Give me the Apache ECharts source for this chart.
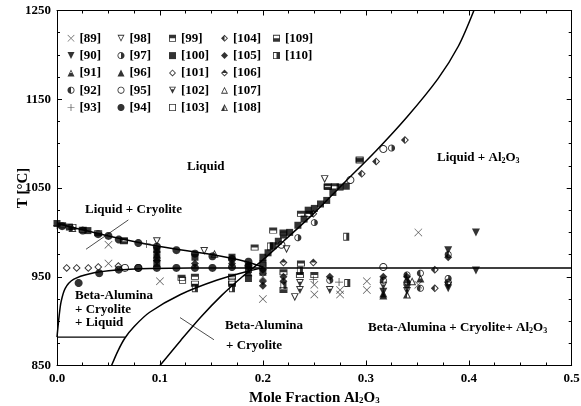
<!DOCTYPE html>
<html>
<head>
<meta charset="utf-8">
<script src="https://cdn.jsdelivr.net/npm/echarts@6/dist/echarts.min.js"></script>
<style>
  html, body { margin: 0; padding: 0; background: #fff; }
  #chart { width: 581px; height: 406px; }
</style>
</head>
<body>
<div id="chart"></div>
<script>
// ---- axis ticks ----
const xTickLabels = ['0.0', '0.1', '0.2', '0.3', '0.4', '0.5'];
const yTickLabels = ['850', '950', '1050', '1150', '1250'];

// ---- measured points [mole fraction Al2O3, T in °C], one array per source ----
const s89 = [[0.05, 986], [0.05, 965], [0.1, 945], [0.2, 950], [0.2, 925], [0.25, 941], [0.25, 930], [0.275, 935], [0.275, 930], [0.301, 945], [0.301, 935], [0.351, 1000], [0.351, 941]];
const s90 = [[0.407, 1000], [0.407, 957], [0.38, 980], [0.38, 937], [0.34, 937], [0.317, 933]];
const s91 = [[0.317, 931], [0.34, 947], [0.353, 948]];
const s92 = [[0.317, 946], [0.34, 952], [0.38, 975], [0.38, 944], [0.353, 954], [0.353, 937]];
const s93 = [[0.0, 1008], [0.087, 987], [0.249, 947], [0.274, 944]];
const s94 = [[0.005, 1007], [0.025, 1002], [0.04, 998], [0.05, 996], [0.06, 992], [0.079, 988], [0.097, 984], [0.116, 980], [0.134, 976], [0.151, 973], [0.17, 970], [0.186, 967],
             [0.021, 943], [0.041, 954], [0.06, 958], [0.079, 960], [0.097, 960], [0.116, 960], [0.134, 960], [0.151, 960], [0.17, 961], [0.186, 962]];
const s95 = [[0.066, 960], [0.079, 960], [0.218, 986], [0.285, 1059], [0.317, 1094], [0.317, 961]];
const s96 = [[0.097, 975], [0.186, 955], [0.317, 929]];
const s97 = [[0.234, 994], [0.25, 1011], [0.325, 1095], [0.265, 946], [0.34, 944], [0.38, 948]];
const s98 = [[0.097, 990], [0.143, 979], [0.26, 1060], [0.231, 927], [0.223, 981]];
const s99 = [[0.005, 1008], [0.025, 1003], [0.065, 991], [0.121, 949], [0.134, 950], [0.192, 983], [0.21, 1002], [0.22, 1000], [0.237, 1021], [0.245, 1021],
             [0.237, 965], [0.236, 952], [0.25, 952], [0.263, 1052], [0.27, 1052], [0.294, 1081], [0.22, 955], [0.17, 950]];
const s100 = [[0.0, 1010], [0.012, 1006], [0.03, 1002], [0.097, 980], [0.097, 972], [0.097, 965], [0.134, 972], [0.17, 972], [0.2, 965], [0.2, 972], [0.205, 977], [0.21, 985],
              [0.215, 990], [0.22, 997], [0.226, 1000], [0.234, 1008], [0.24, 1015], [0.244, 1025], [0.25, 1027], [0.256, 1032], [0.262, 1036], [0.268, 1045],
              [0.275, 1051], [0.281, 1052], [0.186, 958], [0.2, 955], [0.186, 948]];
const s101 = [[0.0094, 960], [0.0191, 960], [0.0304, 960], [0.0401, 961], [0.0596, 962]];
const s102 = [[0.236, 943], [0.236, 935], [0.265, 935], [0.34, 934], [0.38, 940], [0.317, 940]];
const s103 = [[0.122, 946], [0.17, 945], [0.2, 963]];
const s104 = [[0.249, 1021], [0.296, 1066], [0.31, 1080], [0.338, 1104], [0.367, 958], [0.367, 937]];
const s105 = [[0.097, 978], [0.097, 968], [0.134, 965], [0.17, 965], [0.186, 963], [0.2, 958], [0.2, 945], [0.2, 940], [0.22, 950], [0.22, 945],
              [0.265, 950], [0.34, 950], [0.317, 950], [0.38, 972]];
const s106 = [[0.22, 966], [0.249, 966]];
const s107 = [[0.153, 976], [0.345, 945]];
const s108 = [[0.015, 1005], [0.34, 930]];
const s109 = [[0.015, 1006], [0.04, 999], [0.065, 990], [0.134, 942], [0.17, 942], [0.22, 935], [0.294, 1082], [0.263, 1051]];
const s110 = [[0.134, 937], [0.17, 937], [0.207, 984], [0.22, 940], [0.281, 995], [0.282, 943], [0.236, 957]];

// ---- phase boundaries ----
const cryoliteLiquidus = [[0, 1010], [0.05, 996], [0.1, 984], [0.15, 975], [0.184, 967], [0.2, 961]];
const betaLiquidus = [[0, 882], [0.002, 905], [0.004, 922], [0.008, 937], [0.016, 947], [0.032, 953.5], [0.058, 957.5], [0.09, 959.3], [0.13, 960], [0.5, 960]];
const solidus882 = [[0, 882], [0.066, 882]];
const betaBoundary = [[0.053, 850], [0.059, 866], [0.066, 881], [0.075, 894], [0.09, 910], [0.12, 930], [0.155, 946], [0.185, 956], [0.2, 960]];
const aluminaLiquidus = [[0.1, 850], [0.12, 878], [0.14, 905], [0.16, 929], [0.18, 950], [0.2, 969], [0.22, 990], [0.25, 1022],
                         [0.28, 1057], [0.31, 1092], [0.34, 1130], [0.37, 1173], [0.39, 1210], [0.405, 1250]];
const pointerCryolite = [[0.0282, 981], [0.0693, 1014]];
const pointerBeta = [[0.1195, 904], [0.1525, 879]];

// ---- legend layout: columns of source labels ----
const legendColumns = [
  ['[89]', '[90]', '[91]', '[92]', '[93]'],
  ['[98]', '[97]', '[96]', '[95]', '[94]'],
  ['[99]', '[100]', '[101]', '[102]', '[103]'],
  ['[104]', '[105]', '[106]', '[107]', '[108]'],
  ['[109]', '[110]']
];
const legendLeft = [67.5, 117.5, 169, 221, 273];

// ---- marker shapes built as single-colour paths (rings + partial fills) ----
function circlePts(r) {
  const p = [];
  for (let i = 0; i < 32; i++) { const a = i / 32 * 2 * Math.PI; p.push([10 + r * Math.cos(a), 10 + r * Math.sin(a)]); }
  return p;
}
function scalePts(pts, cx, cy, f) { return pts.map(([x, y]) => [cx + (x - cx) * f, cy + (y - cy) * f]); }
function toPath(pts) { return 'M' + pts.map(p => p[0].toFixed(2) + ',' + p[1].toFixed(2)).join('L') + 'Z'; }
function clipHalf(pts, a, b, c) {
  const out = [], f = p => a * p[0] + b * p[1] + c;
  for (let i = 0; i < pts.length; i++) {
    const P = pts[i], Q = pts[(i + 1) % pts.length], fp = f(P), fq = f(Q);
    if (fp >= 0) out.push(P);
    if ((fp >= 0) !== (fq >= 0)) { const t = fp / (fp - fq); out.push([P[0] + t * (Q[0] - P[0]), P[1] + t * (Q[1] - P[1])]); }
  }
  return out;
}
const SHAPES = {
  circle: { outer: circlePts(10), c: [10, 10], inr: 10 },
  square: { outer: [[0, 0], [20, 0], [20, 20], [0, 20]], c: [10, 10], inr: 10 },
  diamond: { outer: [[10, 0], [20, 10], [10, 20], [0, 10]], c: [10, 10], inr: 7.07 },
  up: { outer: [[10, 0], [20, 20], [0, 20]], c: [10, 13.82], inr: 6.18 },
  down: { outer: [[0, 0], [20, 0], [10, 20]], c: [10, 6.18], inr: 6.18 }
};
const RING = 2.4;
function innerOf(s) { const sh = SHAPES[s]; return scalePts(sh.outer, sh.c[0], sh.c[1], 1 - RING / sh.inr); }
function solid(s) { return 'path://' + toPath(SHAPES[s].outer); }
function hollow(s) { return 'path://' + toPath(SHAPES[s].outer) + toPath(innerOf(s).slice().reverse()); }
function part(s, a, b, c) {
  const inner = innerOf(s);
  return 'path://' + toPath(SHAPES[s].outer) + toPath(inner.slice().reverse()) + toPath(clipHalf(inner, a, b, c));
}
const CROSS = 'path://' + toPath([[0, 1.2], [1.2, 0], [20, 18.8], [18.8, 20]]) + toPath([[18.8, 0], [20, 1.2], [1.2, 20], [0, 18.8]]);
const PLUS = 'path://' + toPath([[9, 0], [11, 0], [11, 20], [9, 20]]) + toPath([[0, 9], [20, 9], [20, 11], [0, 11]]);
const LEFT = [-1, 0, 10], RIGHT = [1, 0, -10], TOP = [0, -1, 10], BOTTOM = [0, 1, -10];

const sources = [
  { name: '[89]', data: s89, symbol: CROSS, size: 8, color: '#333' },
  { name: '[90]', data: s90, symbol: solid('down'), size: 8 },
  { name: '[91]', data: s91, symbol: part('up', ...BOTTOM), size: 8 },
  { name: '[92]', data: s92, symbol: part('circle', ...LEFT), size: 7 },
  { name: '[93]', data: s93, symbol: PLUS, size: 8, color: '#222' },
  { name: '[94]', data: s94, symbol: solid('circle'), size: 8 },
  { name: '[95]', data: s95, symbol: hollow('circle'), size: 8 },
  { name: '[96]', data: s96, symbol: solid('up'), size: 8 },
  { name: '[97]', data: s97, symbol: part('circle', ...RIGHT), size: 7 },
  { name: '[98]', data: s98, symbol: hollow('down'), size: 8 },
  { name: '[99]', data: s99, symbol: part('square', ...TOP), size: [8, 6] },
  { name: '[100]', data: s100, symbol: solid('square'), size: 7 },
  { name: '[101]', data: s101, symbol: hollow('diamond'), size: 8 },
  { name: '[102]', data: s102, symbol: part('down', 0, 1, -7), size: 8 },
  { name: '[103]', data: s103, symbol: hollow('square'), size: 7 },
  { name: '[104]', data: s104, symbol: part('diamond', ...LEFT), size: 8 },
  { name: '[105]', data: s105, symbol: solid('diamond'), size: 8 },
  { name: '[106]', data: s106, symbol: part('diamond', ...TOP), size: 8 },
  { name: '[107]', data: s107, symbol: hollow('up'), size: 8 },
  { name: '[108]', data: s108, symbol: part('up', ...LEFT), size: 8 },
  { name: '[109]', data: s109, symbol: part('square', ...BOTTOM), size: [8, 6] },
  { name: '[110]', data: s110, symbol: part('square', ...RIGHT), size: [6, 8] }
];

const SERIF = '"Liberation Serif", "Times New Roman", serif';

function boundary(data, width, smooth) {
  return {
    type: 'line', data: data, showSymbol: false, symbol: 'none', silent: true, z: 1,
    smooth: smooth,
    lineStyle: { color: '#000', width: width }
  };
}

const series = [
  boundary(cryoliteLiquidus, 1.5, 0.3),
  boundary(betaLiquidus, 1.5, 0.3),
  boundary(solidus882, 1.3, false),
  boundary(betaBoundary, 1.5, 0.3),
  boundary(aluminaLiquidus, 1.5, 0.3),
  boundary(pointerCryolite, 0.7, false),
  boundary(pointerBeta, 0.7, false)
].concat(sources.map(s => ({
  name: s.name, type: 'scatter', data: s.data, symbol: s.symbol, symbolSize: s.size, z: 3,
  itemStyle: { color: s.color || '#000', borderWidth: 0 }
})));

const legends = legendColumns.map((col, i) => ({
  data: col, orient: 'vertical', left: legendLeft[i], top: 31.3,
  itemWidth: 7, itemHeight: 7, itemGap: 3.3, padding: 0, selectedMode: false,
  textStyle: { fontFamily: SERIF, fontWeight: 'bold', fontSize: 13, color: '#000', lineHeight: 14 }
}));

function regionLabel(x, y, text) {
  return {
    type: 'text', x: x, y: y, silent: true, z: 10,
    style: {
      text: text, fill: '#000', fontFamily: SERIF, fontWeight: 'bold', fontSize: 13,
      verticalAlign: 'middle', align: 'left',
      rich: { s: { fontFamily: SERIF, fontWeight: 'bold', fontSize: 8, verticalAlign: 'bottom', fill: '#000' } }
    }
  };
}

const axisBase = {
  type: 'value', min: 0, max: 0.5, interval: 0.1,
  axisLine: { show: true, onZero: false, lineStyle: { color: '#000', width: 1 } },
  axisTick: { show: true, inside: true, length: 5, lineStyle: { color: '#000', width: 1 } },
  minorTick: { show: true, splitNumber: 4, length: 3, lineStyle: { color: '#000', width: 1 } },
  splitLine: { show: false }, minorSplitLine: { show: false }
};

const option = {
  animation: false,
  backgroundColor: '#fff',
  grid: { left: 57, right: 9.3, top: 10.5, bottom: 40.5, containLabel: false, outerBoundsMode: 'none' },
  legend: legends,
  xAxis: [
    Object.assign({}, axisBase, {
      position: 'bottom',
      axisLabel: { formatter: v => xTickLabels[Math.round(v * 10)], fontFamily: SERIF, fontWeight: 'bold', fontSize: 13, color: '#000', margin: 7 },
      name: 'Mole Fraction Al{s|2}O{s|3}', nameLocation: 'middle', nameGap: 25, nameMoveOverlap: false,
      nameTextStyle: {
        fontFamily: SERIF, fontWeight: 'bold', fontSize: 15, color: '#000',
        rich: { s: { fontFamily: SERIF, fontWeight: 'bold', fontSize: 9, verticalAlign: 'bottom', color: '#000' } }
      }
    }),
    Object.assign({}, axisBase, { position: 'top', axisLabel: { show: false } })
  ],
  yAxis: [
    Object.assign({}, axisBase, {
      min: 850, max: 1250, interval: 100, position: 'left',
      axisLabel: { formatter: v => yTickLabels[Math.round((v - 850) / 100)], fontFamily: SERIF, fontWeight: 'bold', fontSize: 13, color: '#000', margin: 6 },
      name: 'T [°C]', nameLocation: 'middle', nameGap: 26, nameRotate: 90, nameMoveOverlap: false,
      nameTextStyle: { fontFamily: SERIF, fontWeight: 'bold', fontSize: 15, color: '#000' }
    }),
    Object.assign({}, axisBase, { min: 850, max: 1250, interval: 100, position: 'right', axisLabel: { show: false } })
  ],
  series: series,
  graphic: [
    regionLabel(187, 167, 'Liquid'),
    regionLabel(85, 210, 'Liquid + Cryolite'),
    regionLabel(75, 296, 'Beta-Alumina'),
    regionLabel(75, 309.5, '+ Cryolite'),
    regionLabel(75, 323, '+ Liquid'),
    regionLabel(225, 326, 'Beta-Alumina'),
    regionLabel(226, 346, '+ Cryolite'),
    regionLabel(437, 158, 'Liquid + Al{s|2}O{s|3}'),
    regionLabel(368, 328, 'Beta-Alumina + Cryolite+ Al{s|2}O{s|3}')
  ]
};

const chart = echarts.init(document.getElementById('chart'), null, { renderer: 'canvas' });
chart.setOption(option);
</script>
</body>
</html>
